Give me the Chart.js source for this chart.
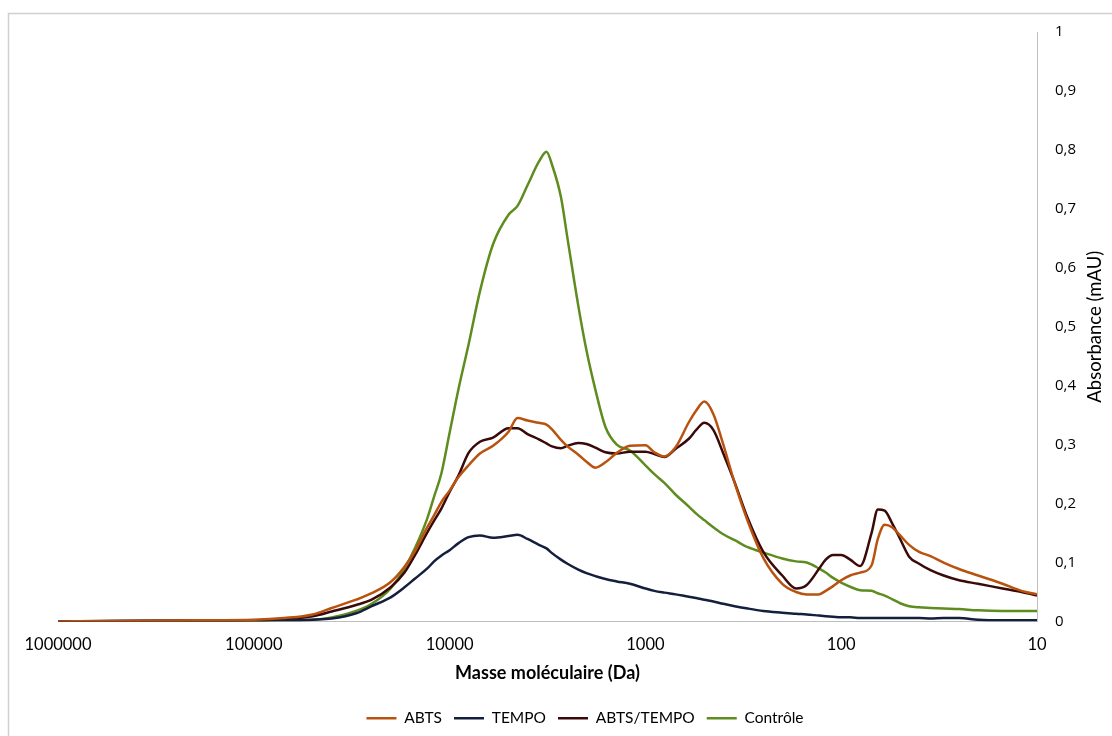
<!DOCTYPE html>
<html>
<head>
<meta charset="utf-8">
<script src="https://cdn.jsdelivr.net/npm/chart.js@4.4.1/dist/chart.umd.min.js"></script>
<style>
  body { margin: 0; background: #fff; }
  #wrap { width: 1112px; height: 736px; }
</style>
</head>
<body>
<div id="wrap"><canvas id="myChart" width="1112" height="736"></canvas></div>
<script>
// Masse moléculaire (Da), axe logarithmique inversé
const massDa = [1000000, 500000, 200000, 100000, 70000, 50000, 40000, 30000, 25000, 20000,
  17000, 15000, 13000, 12000, 11000, 10000, 9000, 8000, 7000, 6000,
  5000, 4500, 4000, 3500, 3200, 3000, 2700, 2500, 2200, 2000,
  1800, 1600, 1400, 1200, 1000, 900, 800, 700, 600, 550,
  500, 450, 400, 350, 300, 250, 200, 170, 150, 130,
  120, 110, 100, 90, 80, 70, 65, 60, 55, 50,
  45, 40, 35, 30, 25, 20, 15, 12, 10];

const abts = [0, 0.001, 0.002, 0.003, 0.006, 0.012, 0.023, 0.037, 0.048, 0.067,
  0.093, 0.12, 0.16, 0.18, 0.203, 0.222, 0.245, 0.265, 0.285, 0.298,
  0.322, 0.345, 0.341, 0.337, 0.334, 0.326, 0.308, 0.297, 0.283, 0.271,
  0.261, 0.27, 0.286, 0.298, 0.299, 0.287, 0.28, 0.296, 0.338, 0.358,
  0.373, 0.352, 0.30, 0.235, 0.17, 0.108, 0.064, 0.05, 0.046, 0.046,
  0.052, 0.06, 0.07, 0.078, 0.083, 0.095, 0.14, 0.164, 0.16, 0.146,
  0.13, 0.118, 0.111, 0.10, 0.089, 0.078, 0.064, 0.052, 0.046];

const tempo = [0, 0.001, 0.002, 0.002, 0.002, 0.003, 0.005, 0.014, 0.026, 0.041,
  0.058, 0.073, 0.09, 0.102, 0.112, 0.121, 0.133, 0.143, 0.146, 0.142,
  0.145, 0.147, 0.14, 0.13, 0.124, 0.116, 0.105, 0.098, 0.088, 0.082,
  0.077, 0.072, 0.068, 0.064, 0.056, 0.052, 0.049, 0.046, 0.042, 0.04,
  0.037, 0.034, 0.03, 0.026, 0.022, 0.018, 0.015, 0.013, 0.012, 0.01,
  0.009, 0.008, 0.007, 0.007, 0.006, 0.006, 0.006, 0.006, 0.006, 0.006,
  0.006, 0.006, 0.005, 0.006, 0.006, 0.003, 0.002, 0.002, 0.002];

const abtsTempo = [0, 0.001, 0.001, 0.002, 0.004, 0.009, 0.017, 0.028, 0.037, 0.058,
  0.083, 0.113, 0.151, 0.171, 0.192, 0.22, 0.248, 0.286, 0.305, 0.312,
  0.328, 0.328, 0.318, 0.309, 0.302, 0.297, 0.294, 0.298, 0.303, 0.301,
  0.295, 0.287, 0.285, 0.288, 0.288, 0.284, 0.279, 0.293, 0.31, 0.325,
  0.337, 0.325, 0.285, 0.236, 0.175, 0.118, 0.078, 0.056, 0.062, 0.089,
  0.105, 0.113, 0.113, 0.105, 0.094, 0.15, 0.19, 0.188, 0.167, 0.14,
  0.11, 0.098, 0.087, 0.078, 0.07, 0.064, 0.056, 0.05, 0.044];

const controle = [0, 0, 0, 0.001, 0.002, 0.003, 0.007, 0.018, 0.03, 0.056,
  0.09, 0.125, 0.175, 0.212, 0.252, 0.32, 0.395, 0.47, 0.56, 0.64,
  0.69, 0.705, 0.74, 0.78, 0.797, 0.775, 0.72, 0.65, 0.535, 0.46,
  0.393, 0.33, 0.30, 0.29, 0.265, 0.25, 0.235, 0.215, 0.195, 0.183,
  0.172, 0.16, 0.148, 0.138, 0.126, 0.117, 0.107, 0.102, 0.10, 0.09,
  0.083, 0.074, 0.066, 0.059, 0.053, 0.052, 0.048, 0.044, 0.038, 0.031,
  0.026, 0.024, 0.023, 0.022, 0.021, 0.019, 0.018, 0.018, 0.018];

const xTicks = [1000000, 100000, 10000, 1000, 100, 10];

function toPoints(values) {
    return massDa.map((m, i) => ({ x: m, y: values[i] }));
}

function serie(label, values, color) {
    return {
        label: label,
        data: toPoints(values),
        borderColor: color,
        backgroundColor: color,
        borderWidth: 2.5,
        pointRadius: 0,
        pointStyle: 'line',
        cubicInterpolationMode: 'monotone',
    };
}

// cadre gris autour du graphique + titre de l'axe Y (lu de bas en haut)
const decor = {
    id: 'decor',
    beforeDraw(chart) {
        const c = chart.ctx;
        c.save();
        c.strokeStyle = '#d0d0d0';
        c.lineWidth = 1.5;
        c.strokeRect(8.5, 13.5, 2000, 2000);
        c.restore();
    },
    afterDraw(chart) {
        const c = chart.ctx;
        const a = chart.chartArea;
        c.save();
        c.translate(a.right + 58, (a.top + a.bottom) / 2);
        c.rotate(-Math.PI / 2);
        c.font = '18.5px Lato';
        c.fillStyle = '#000';
        c.textAlign = 'center';
        c.textBaseline = 'middle';
        c.fillText('Absorbance (mAU)', 0, 0);
        c.restore();
    }
};

Chart.defaults.font.family = 'Lato';
Chart.defaults.color = '#000';

var ctx = document.getElementById('myChart').getContext('2d');
var myChart = new Chart(ctx, {
    type: 'line',
    data: {
        datasets: [
            serie('ABTS', abts, '#b9520f'),
            serie('TEMPO', tempo, '#141f3d'),
            serie('ABTS/TEMPO', abtsTempo, '#3a0a0a'),
            serie('Contrôle', controle, '#5e8c1f'),
        ]
    },
    options: {
        responsive: false,
        animation: false,
        layout: { padding: { left: 58, top: 32, right: 0, bottom: 0 } },
        plugins: {
            legend: {
                position: 'bottom',
                labels: {
                    usePointStyle: true,
                    pointStyleWidth: 30,
                    padding: 12,
                    font: { size: 15.5 },
                    color: '#000',
                }
            },
            tooltip: { enabled: false },
        },
        scales: {
            x: {
                type: 'logarithmic',
                reverse: true,
                min: 10,
                max: 1000000,
                grid: { display: false, drawTicks: false },
                border: { color: '#bfbfbf', width: 1 },
                ticks: {
                    autoSkip: false,
                    maxRotation: 0,
                    padding: 13,
                    font: { size: 16.5 },
                    callback: (v) => String(v),
                },
                afterBuildTicks: (scale) => {
                    scale.ticks = xTicks.map(v => ({ value: v }));
                },
                afterFit: (scale) => { scale.height = 77; },
                title: {
                    display: true,
                    text: 'Masse moléculaire (Da)',
                    font: { size: 18, weight: 'bold' },
                    padding: { top: 0, bottom: 15 },
                },
            },
            y: {
                position: 'right',
                min: 0,
                max: 1,
                grid: { display: false, drawTicks: false },
                border: { color: '#bfbfbf', width: 1 },
                ticks: {
                    stepSize: 0.1,
                    padding: 18,
                    font: { family: 'Open Sans', size: 15 },
                    callback: (v) => String(Math.round(v * 10) / 10).replace('.', ','),
                },
                afterFit: (scale) => { scale.width = 75; },
            }
        }
    },
    plugins: [decor]
});
</script>
</body>
</html>
